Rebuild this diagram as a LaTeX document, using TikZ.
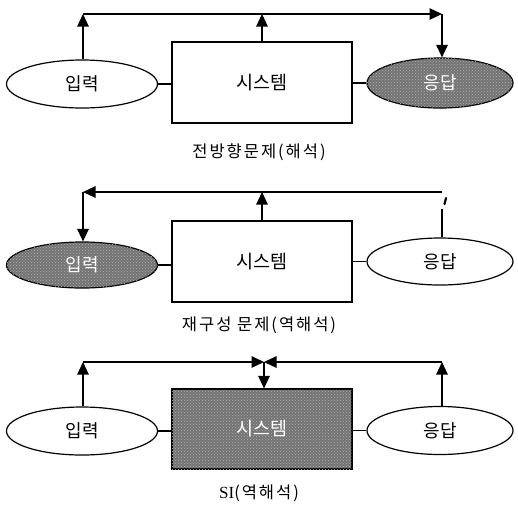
\documentclass[tikz,border=0pt]{standalone}
\usepackage{fontspec}
\setmainfont{Noto Sans CJK KR}
\newfontfamily\kr{Noto Sans CJK KR}
\newfontfamily\latinserif{Liberation Serif}
\usetikzlibrary{shapes.geometric,arrows.meta,patterns}
\begin{document}
\begin{tikzpicture}[x=1pt,y=1pt,
  line width=1.2pt,
  arr/.style={-{Triangle[length=12.5pt,width=11.5pt]}},
  ellnode/.style={ellipse,draw,inner sep=0pt,minimum width=151pt,minimum height=48pt,font=\kr\fontsize{18}{18}\selectfont},
  sysbox/.style={rectangle,draw,inner sep=0pt,minimum width=180pt,minimum height=81pt,font=\kr\fontsize{18.5}{18.5}\selectfont},
  shaded/.style={fill=black!55,postaction={pattern=crosshatch dots,pattern color=white!70!black},text=white},
  caption/.style={font=\kr\fontsize{16.5}{16.5}\selectfont\addfontfeature{LetterSpace=12}}]
\useasboundingbox (0,0) rectangle (518,-507);

% ---------- forward problem ----------
\node[ellnode] (in1) at (82,-84) {입력};
\node[sysbox] (sys1) at (262,-82.5) {시스템};
\node[ellnode,shaded,minimum width=146pt,minimum height=50pt] (out1) at (440,-83) {응답};
\node[caption] (cap1) at (259,-152) {전방향문제(해석)};
\coordinate (tl1) at (83,-14);
\coordinate (tr1) at (442,-14);
\draw (in1.east) -- (in1.east -| sys1.west);
\draw (sys1.east |- out1.west) -- (out1.west);
\draw[arr] (in1.north -| tl1) -- (tl1);
\draw[arr] (sys1.north) -- (sys1.north |- tl1);
\draw[arr] (tl1) -- (tr1);
\draw[arr] (tr1) -- (out1.north -| tr1);

% ---------- reconstruction problem ----------
\node[ellnode,shaded,minimum height=46pt] (in2) at (82,-265) {입력};
\node[sysbox] (sys2) at (262,-261.5) {시스템};
\node[ellnode,minimum width=146pt,minimum height=47pt] (out2) at (440,-261.5) {응답};
\node[caption] (cap2) at (259,-325) {재구성 문제(역해석)};
\coordinate (tl2) at (83,-192);
\coordinate (tr2) at (442,-192);
\coordinate (br2) at (442,-209);
\draw (in2.east) -- (in2.east -| sys2.west);
\draw (sys2.east |- out2.west) -- (out2.west);
\draw (out2.north -| br2) -- (br2);
\draw[line width=2.2pt,line cap=round] (444.5,-204) -- (446,-198);
\draw[arr] (tr2) -- (tl2);
\draw[arr] (tl2) -- (in2.north -| tl2);
\draw[arr] (sys2.north) -- (sys2.north |- tl2);

% ---------- system identification ----------
\node[ellnode] (in3) at (82,-431) {입력};
\node[sysbox,shaded,minimum height=80pt] (sys3) at (262,-429) {시스템};
\node[ellnode,minimum width=146pt] (out3) at (440,-430.5) {응답};
\node[caption] (cap3) at (259,-493) {{\latinserif\fontsize{17}{17}\selectfont SI}(역해석)};
\coordinate (tl3) at (83,-362);
\coordinate (tr3) at (442,-362);
\coordinate (tm3) at (264,-362);
\draw (in3.east) -- (in3.east -| sys3.west);
\draw (sys3.east |- out3.west) -- (out3.west);
\draw[arr] (in3.north -| tl3) -- (tl3);
\draw[arr] (out3.north -| tr3) -- (tr3);
\draw[arr] (tl3) -- (tm3);
\draw[arr] (tr3) -- (tm3);
\draw[arr] (tm3) -- (sys3.north -| tm3);
\end{tikzpicture}
\end{document}
